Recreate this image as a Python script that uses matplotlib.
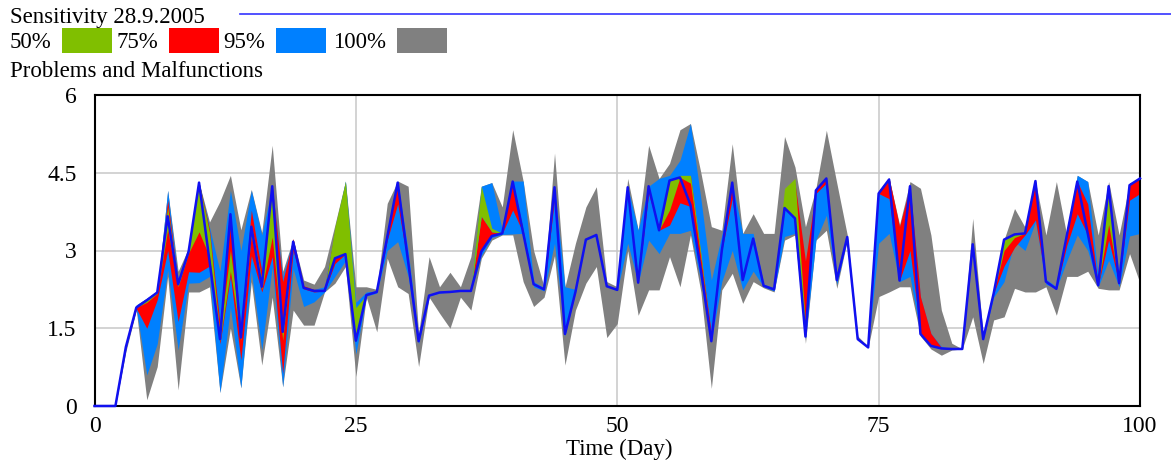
import matplotlib
matplotlib.use("Agg")
import matplotlib.pyplot as plt
import numpy as np

# Sensitivity run output: "Problems and Malfunctions" per day (0..100)
days = list(range(101))

base = [
    0, 0, 0, 1.14, 1.90, 2.04, 2.19, 3.66, 2.35, 2.98,
    4.31, 2.80, 1.29, 3.70, 1.32, 3.46, 2.30, 4.24, 1.43, 3.17,
    2.28, 2.22, 2.22, 2.85, 2.93, 1.26, 2.14, 2.20, 3.26, 4.31,
    2.78, 1.25, 2.13, 2.19, 2.20, 2.22, 2.22, 2.98, 3.28, 3.33,
    4.33, 3.34, 2.35, 2.25, 4.22, 1.39, 2.20, 3.21, 3.30, 2.31,
    2.24, 4.22, 2.38, 4.24, 3.39, 4.35, 4.41, 3.88, 2.62, 1.25,
    3.00, 4.31, 2.43, 3.23, 2.32, 2.25, 3.82, 3.62, 1.34, 4.16,
    4.39, 2.43, 3.26, 1.29, 1.13, 4.10, 4.37, 2.42, 4.24, 1.39,
    1.16, 1.11, 1.10, 1.10, 3.12, 1.29, 2.17, 3.21, 3.31, 3.33,
    4.34, 2.40, 2.26, 3.29, 4.33, 3.33, 2.33, 4.24, 2.37, 4.26,
    4.39]

# 100% bounds
gray_lo = [
    0, 0, 0, 1.05, 1.85, 0.12, 0.76, 2.50, 0.31, 2.20,
    2.20, 2.30, 0.26, 1.50, 0.35, 2.40, 0.79, 2.10, 0.37, 1.85,
    1.56, 1.56, 2.20, 2.37, 2.69, 0.57, 2.10, 1.43, 2.85, 2.30,
    2.17, 0.76, 2.10, 1.79, 1.50, 2.10, 1.85, 2.85, 3.20, 3.30,
    3.30, 2.40, 1.92, 2.10, 2.90, 0.79, 1.85, 2.37, 2.69, 1.32,
    1.59, 3.00, 1.75, 2.24, 2.24, 2.88, 2.30, 3.30, 2.20, 0.34,
    2.24, 2.56, 1.98, 2.40, 2.28, 2.20, 3.20, 3.30, 1.21, 3.20,
    3.39, 2.27, 3.20, 1.29, 1.13, 2.11, 2.20, 2.30, 2.30, 1.35,
    1.10, 0.98, 1.08, 1.10, 1.72, 0.82, 1.66, 1.72, 2.27, 2.20,
    2.20, 2.30, 1.75, 2.50, 2.50, 2.60, 2.27, 2.24, 2.24, 2.94,
    2.37]
gray_hi = [
    0, 0, 0, 1.20, 1.95, 2.08, 2.22, 4.16, 2.60, 3.05,
    4.31, 3.55, 3.95, 4.45, 3.40, 4.18, 3.35, 5.03, 2.60, 3.22,
    2.43, 2.35, 2.69, 3.50, 4.34, 2.30, 2.30, 2.25, 3.91, 4.34,
    4.24, 1.40, 2.88, 2.30, 2.58, 2.30, 2.88, 4.24, 4.31, 3.84,
    5.33, 4.34, 3.00, 2.30, 4.88, 2.30, 3.14, 3.84, 4.23, 2.40,
    2.30, 4.39, 3.40, 5.03, 4.39, 4.68, 5.33, 5.45, 4.50, 3.46,
    3.39, 5.06, 3.33, 3.71, 3.33, 3.33, 5.20, 4.61, 3.46, 4.20,
    5.32, 4.30, 3.30, 1.35, 1.15, 4.15, 4.40, 3.50, 4.33, 4.20,
    3.30, 1.85, 1.21, 1.10, 3.62, 1.35, 2.20, 3.21, 3.81, 3.45,
    4.34, 3.30, 4.33, 3.29, 4.45, 4.33, 3.30, 4.33, 3.30, 4.30,
    4.39]

# 95% bounds
blue_lo = [
    0, 0, 0, 1.10, 1.88, 0.60, 1.20, 2.62, 1.08, 2.37,
    2.38, 2.50, 0.26, 1.90, 0.35, 2.60, 1.08, 2.69, 0.37, 2.65,
    1.92, 2.01, 2.20, 2.50, 2.80, 1.00, 2.12, 2.18, 3.00, 3.17,
    2.50, 1.20, 2.12, 2.18, 2.20, 2.22, 2.22, 2.90, 3.25, 3.31,
    3.32, 3.33, 2.30, 2.22, 3.14, 1.35, 2.20, 3.20, 3.28, 2.30,
    2.23, 3.14, 2.38, 3.20, 2.94, 3.33, 3.33, 3.39, 2.40, 1.25,
    2.40, 3.00, 2.24, 2.60, 2.30, 2.22, 3.27, 3.33, 1.30, 3.20,
    3.68, 2.35, 3.24, 1.29, 1.13, 3.14, 3.33, 2.40, 2.50, 1.39,
    1.16, 1.11, 1.10, 1.10, 3.10, 1.29, 2.10, 2.40, 3.17, 3.00,
    3.55, 2.35, 2.26, 2.80, 3.30, 3.00, 2.30, 2.81, 2.30, 3.28,
    3.33]
blue_hi = [
    0, 0, 0, 1.18, 1.95, 2.08, 2.22, 4.16, 2.45, 3.00,
    4.31, 3.45, 2.60, 4.16, 3.00, 4.16, 3.30, 4.24, 2.50, 3.22,
    2.30, 2.25, 2.30, 3.40, 4.34, 2.00, 2.20, 2.22, 3.40, 4.33,
    3.00, 1.30, 2.15, 2.20, 2.20, 2.22, 2.22, 4.24, 4.31, 3.40,
    4.34, 4.34, 2.40, 2.28, 4.22, 2.30, 2.25, 3.22, 3.32, 2.32,
    2.26, 4.22, 3.39, 4.24, 4.39, 4.45, 4.74, 5.45, 4.00, 2.43,
    3.30, 4.31, 3.33, 3.33, 2.35, 2.28, 4.00, 4.30, 2.50, 4.16,
    4.39, 2.50, 3.28, 1.30, 1.14, 4.10, 4.40, 3.40, 4.24, 2.10,
    1.40, 1.15, 1.10, 1.10, 3.14, 1.30, 2.20, 3.21, 3.31, 3.33,
    4.34, 2.45, 2.30, 3.40, 4.45, 4.33, 2.50, 4.24, 2.50, 4.30,
    4.39]

# 75% bounds
red_lo = [
    0, 0, 0, 1.12, 1.88, 1.50, 2.05, 3.00, 1.63, 2.59,
    2.58, 2.70, 1.20, 2.50, 0.89, 2.90, 2.20, 2.88, 0.63, 3.00,
    2.26, 2.20, 2.22, 2.75, 2.93, 1.26, 2.14, 2.20, 3.20, 3.90,
    2.70, 1.25, 2.13, 2.19, 2.20, 2.22, 2.22, 2.98, 3.28, 3.33,
    3.78, 3.34, 2.35, 2.25, 4.00, 1.39, 2.20, 3.21, 3.30, 2.31,
    2.24, 4.22, 2.38, 4.10, 3.39, 3.49, 3.92, 3.85, 2.60, 1.25,
    3.00, 4.00, 2.43, 3.23, 2.32, 2.25, 3.80, 3.62, 1.34, 4.10,
    4.30, 2.43, 3.26, 1.29, 1.13, 4.10, 4.00, 2.42, 3.00, 1.39,
    1.16, 1.11, 1.10, 1.10, 3.12, 1.29, 2.17, 2.70, 3.06, 3.30,
    3.59, 2.40, 2.26, 3.10, 3.71, 3.30, 2.33, 3.20, 2.37, 3.97,
    4.10]
red_hi = [
    0, 0, 0, 1.16, 1.92, 2.05, 2.20, 3.97, 2.40, 2.98,
    4.31, 3.40, 1.60, 3.70, 1.50, 3.78, 2.60, 4.24, 2.40, 3.23,
    2.32, 2.25, 2.25, 3.39, 3.39, 1.70, 2.16, 2.20, 3.30, 4.31,
    2.85, 1.25, 2.13, 2.19, 2.20, 2.22, 2.22, 3.66, 3.36, 3.35,
    4.33, 3.40, 2.35, 2.25, 4.22, 1.40, 2.20, 3.21, 3.30, 2.31,
    2.24, 4.22, 2.40, 4.24, 3.42, 4.35, 4.41, 4.45, 2.90, 1.40,
    3.00, 4.31, 2.45, 3.23, 2.32, 2.25, 4.00, 4.30, 2.80, 4.16,
    4.39, 2.43, 3.26, 1.29, 1.13, 4.15, 4.40, 3.46, 4.24, 2.11,
    1.40, 1.13, 1.10, 1.10, 3.12, 1.29, 2.17, 3.21, 3.31, 3.33,
    4.34, 2.43, 2.26, 3.30, 4.33, 3.90, 2.33, 4.24, 2.37, 4.26,
    4.39]

# 50% bounds
green_lo = [
    0, 0, 0, 1.14, 1.90, 2.00, 2.17, 3.40, 2.30, 2.95,
    3.36, 2.88, 1.25, 2.60, 1.27, 3.30, 2.25, 3.26, 1.27, 3.15,
    2.28, 2.22, 2.22, 2.85, 2.93, 1.30, 2.14, 2.20, 3.26, 4.30,
    2.78, 1.25, 2.13, 2.19, 2.20, 2.22, 2.22, 3.66, 3.36, 3.33,
    4.33, 3.34, 2.35, 2.25, 4.22, 1.39, 2.20, 3.21, 3.30, 2.31,
    2.24, 4.22, 2.38, 4.24, 3.39, 3.78, 4.41, 4.30, 2.85, 1.25,
    3.00, 4.31, 2.43, 3.23, 2.32, 2.25, 3.82, 3.62, 1.34, 4.16,
    4.39, 2.43, 3.26, 1.29, 1.13, 4.10, 4.37, 2.42, 4.24, 1.39,
    1.16, 1.11, 1.10, 1.10, 3.12, 1.29, 2.17, 3.00, 3.25, 3.33,
    4.34, 2.40, 2.26, 3.29, 4.33, 3.33, 2.33, 3.50, 2.37, 4.26,
    4.39]
green_hi = [
    0, 0, 0, 1.14, 1.90, 2.04, 2.20, 3.84, 2.38, 2.98,
    4.31, 3.35, 1.40, 3.00, 1.40, 3.50, 2.45, 4.24, 1.45, 3.20,
    2.30, 2.22, 2.22, 3.46, 4.33, 1.90, 2.14, 2.20, 3.26, 4.31,
    2.78, 1.25, 2.13, 2.19, 2.20, 2.22, 2.22, 4.24, 3.43, 3.33,
    4.33, 3.34, 2.35, 2.25, 4.22, 1.39, 2.20, 3.21, 3.30, 2.31,
    2.24, 4.22, 2.38, 4.24, 3.39, 4.35, 4.45, 4.45, 2.95, 1.25,
    3.00, 4.31, 2.43, 3.23, 2.32, 2.25, 4.20, 4.39, 1.60, 4.16,
    4.39, 2.43, 3.26, 1.29, 1.13, 4.10, 4.37, 2.42, 4.24, 1.39,
    1.16, 1.11, 1.10, 1.10, 3.12, 1.29, 2.17, 3.21, 3.31, 3.33,
    4.34, 2.43, 2.26, 3.29, 4.33, 3.33, 2.33, 4.24, 2.37, 4.26,
    4.39]

levels = ["50%", "75%", "95%", "100%"]
x_ticks = [0, 25, 50, 75, 100]
y_ticks = [0, 1.5, 3, 4.5, 6]
y_tick_labels = ["0", "1.5", "3", "4.5", "6"]

GREEN, RED, BLUE, GRAY = "#80BF00", "#FF0000", "#0080FF", "#808080"
LINE = "#1010F0"
SERIF = ["Liberation Serif", "DejaVu Serif"]
HEAD_SIZE = 16.5

W, H = 1171, 462
fig = plt.figure(figsize=(W / 100, H / 100), dpi=100)
ax = fig.add_axes([94.5 / W, 1 - 406 / H, (1140 - 94.5) / W, (406 - 95) / H])

x = np.array(days)
bands = [(gray_lo, gray_hi, GRAY), (blue_lo, blue_hi, BLUE),
         (red_lo, red_hi, RED), (green_lo, green_hi, GREEN)]
for lo, hi, col in bands:
    ax.fill_between(x, lo, hi, color=col, linewidth=0, zorder=2)
ax.plot(x, base, color=LINE, lw=1.8, zorder=3, clip_on=False)

ax.set_xlim(0, 100)
ax.set_ylim(0, 6)
ax.set_xticks(x_ticks)
ax.set_yticks(y_ticks)
ax.set_yticklabels(y_tick_labels)
ax.grid(True, color="#C8C8C8", lw=1.1, zorder=1)
ax.set_axisbelow(True)
ax.tick_params(length=0)
ax.tick_params(axis="y", pad=13)
ax.tick_params(axis="x", pad=7)
for lab in ax.get_xticklabels() + ax.get_yticklabels():
    lab.set_family(SERIF)
    lab.set_fontsize(17)
for sp in ax.spines.values():
    sp.set_color("black")
    sp.set_linewidth(1.5)

def px(xp, yp):
    return xp / W, 1 - yp / H

fig.text(*px(619, 455), "Time (Day)", family=SERIF, fontsize=16.5,
         ha="center", va="baseline")

# header: title line, legend row, variable name
fig.text(*px(10, 23), "Sensitivity 28.9.2005", family=SERIF,
         fontsize=HEAD_SIZE, va="baseline")
fig.add_artist(plt.Line2D([240 / W, 1.0], [1 - 14.3 / H] * 2,
                          color="#3333FF", lw=1.2, transform=fig.transFigure))

legend_text_x = [10, 116, 223, 333]
legend_box_x = [62, 169, 276, 397]
for lab, tx, bx, col in zip(levels, legend_text_x, legend_box_x,
                            [GREEN, RED, BLUE, GRAY]):
    fig.text(*px(tx, 48), lab, family=SERIF, fontsize=HEAD_SIZE,
             va="baseline")
    fig.add_artist(plt.Rectangle(px(bx, 53), 50 / W, 25 / H, color=col,
                                 transform=fig.transFigure, lw=0))

fig.text(*px(10, 77), "Problems and Malfunctions", family=SERIF,
         fontsize=HEAD_SIZE, va="baseline")

fig.savefig("out.png", dpi=100)
